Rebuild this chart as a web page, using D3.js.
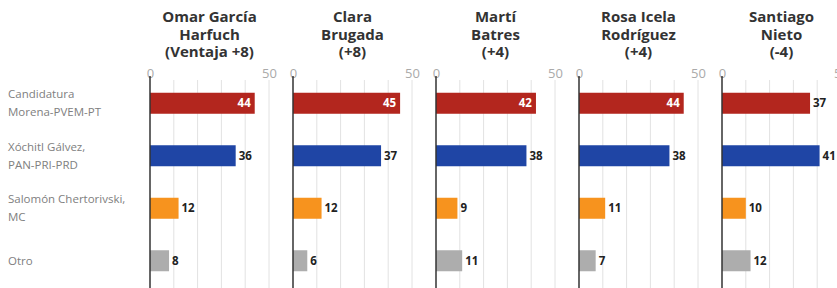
<!DOCTYPE html>
<html>
<head>
<meta charset="utf-8">
<script src="https://cdn.jsdelivr.net/npm/d3@7"></script>
<style>
  body { margin: 0; background: #fff; }
  svg { display: block; }
</style>
</head>
<body>
<div id="container"></div>
<script>
// data
const panelTitles = [
  ["Omar García", "Harfuch", "(Ventaja +8)"],
  ["Clara", "Brugada", "(+8)"],
  ["Martí", "Batres", "(+4)"],
  ["Rosa Icela", "Rodríguez", "(+4)"],
  ["Santiago", "Nieto", "(-4)"]
];
const categories = ["Morena", "Xochitl", "Salomon", "Otro"];
const categoryLabels = [
  ["Candidatura", "Morena-PVEM-PT"],
  ["Xóchitl Gálvez,", "PAN-PRI-PRD"],
  ["Salomón Chertorivski,", "MC"],
  ["Otro"]
];
const morena  = [44, 45, 42, 44, 37];
const xochitl = [36, 37, 38, 38, 41];
const salomon = [12, 12, 9, 11, 10];
const otro    = [8, 6, 11, 7, 12];
const tickLabels = [0, 50];
const gridTicks = [10, 20, 30, 40, 50];

const colors = ["#b3261e", "#1f45a5", "#f7931e", "#adadad"];
const series = [morena, xochitl, salomon, otro];

const width = 837, height = 288;
const panelX = [150, 293, 436, 579, 722];

const svg = d3.select("#container").append("svg")
  .attr("width", width)
  .attr("height", height)
  .style("font-family", "'Open Sans', sans-serif");

const y = d3.scaleBand()
  .domain(categories)
  .range([77, 287])
  .paddingInner(0.6)
  .paddingOuter(0.3);

const x = d3.scaleLinear().domain([0, 50]).range([0, 119]);

// row labels on the left
categories.forEach((c, i) => {
  const lines = categoryLabels[i];
  const cy = y(c) + y.bandwidth() / 2;
  const t = svg.append("text")
    .attr("x", 8)
    .attr("y", cy - (lines.length - 1) * 9 + 4)
    .attr("fill", "#808080")
    .style("font-size", "11.5px");
  lines.forEach((l, j) => {
    t.append("tspan").attr("x", 8).attr("dy", j === 0 ? 0 : 18).text(l);
  });
});

panelX.forEach((px, p) => {
  const g = svg.append("g").attr("transform", `translate(${px},0)`);

  // title
  const title = g.append("text")
    .attr("x", x(25))
    .attr("y", 22)
    .attr("text-anchor", "middle")
    .attr("fill", "#333")
    .style("font-size", "15px")
    .style("font-weight", "700");
  panelTitles[p].forEach((l, j) => {
    title.append("tspan").attr("x", x(25)).attr("dy", j === 0 ? 0 : 17.5).text(l);
  });

  // gridlines
  g.selectAll("line.grid")
    .data(gridTicks)
    .enter()
    .append("line")
    .attr("class", "grid")
    .attr("x1", d => x(d)).attr("x2", d => x(d))
    .attr("y1", 80).attr("y2", height)
    .attr("stroke", "#e2e2e2")
    .attr("stroke-width", 1);

  // top axis labels
  const axis = d3.axisTop(x).tickValues(tickLabels).tickSize(0).tickPadding(0);
  g.append("g")
    .attr("transform", "translate(0,78)")
    .call(axis)
    .call(a => a.select(".domain").remove())
    .selectAll("text")
    .attr("fill", "#aaa")
    .style("font-size", "13px")
    .style("font-family", "'Open Sans', sans-serif");

  // bars
  const rows = categories.map((c, i) => ({ c, v: series[i][p], color: colors[i], i }));
  g.selectAll("rect.bar")
    .data(rows)
    .enter()
    .append("rect")
    .attr("class", "bar")
    .attr("x", 0)
    .attr("y", d => y(d.c))
    .attr("width", d => x(d.v))
    .attr("height", y.bandwidth())
    .attr("fill", d => d.color);

  // values
  g.selectAll("text.val")
    .data(rows)
    .enter()
    .append("text")
    .attr("class", "val")
    .attr("x", d => d.v > 41 ? x(d.v) - 4 : x(d.v) + 3)
    .attr("y", d => y(d.c) + y.bandwidth() / 2 + 4)
    .attr("text-anchor", d => d.v > 41 ? "end" : "start")
    .attr("fill", d => d.v > 41 ? "#fff" : "#222")
    .style("font-size", "11.5px")
    .style("font-weight", "700")
    .text(d => d.v);

  // zero axis line
  g.append("line")
    .attr("x1", 0).attr("x2", 0)
    .attr("y1", 76).attr("y2", height)
    .attr("stroke", "#333")
    .attr("stroke-width", 1.5);
});
</script>
</body>
</html>
